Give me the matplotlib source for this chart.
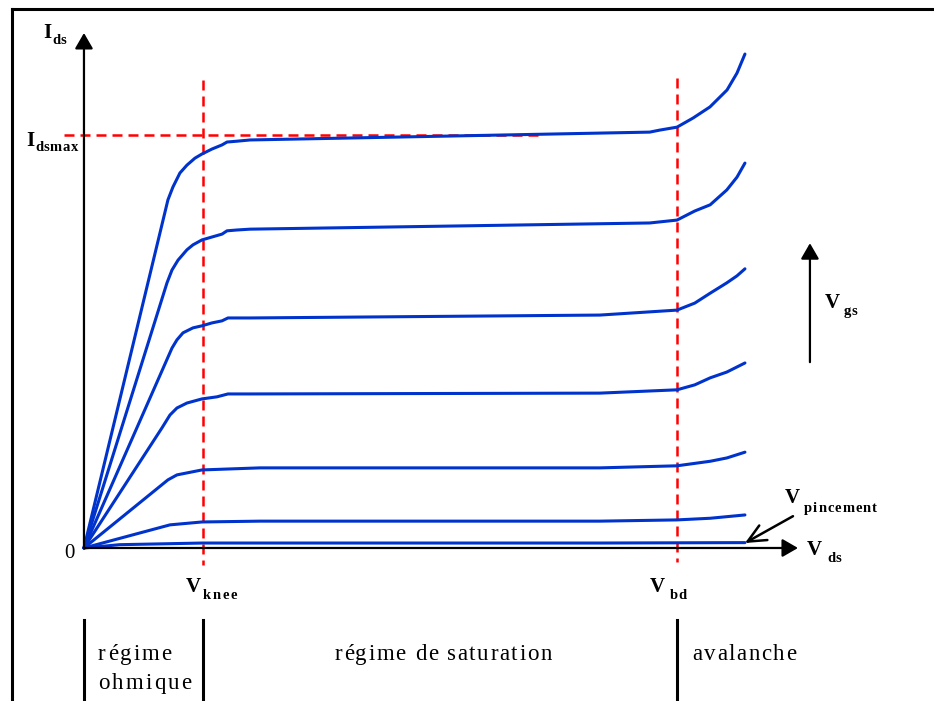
import numpy as np
import matplotlib
matplotlib.use('Agg')
import matplotlib.pyplot as plt
from matplotlib.transforms import offset_copy

# tensions de reference (Vknee = 1, Vbd = 5), courant normalise (Idsmax = 1)
v_knee = 1.0
v_bd = 5.0
ids_max = 1.0

# caracteristiques Ids(Vds) pour Vgs croissant
vds_1 = [0, 0.708, 0.750, 0.809, 0.868, 0.936, 0.995, 1.079, 1.164, 1.206, 1.290, 1.400,
         4.77, 4.857, 5.0, 5.135, 5.278, 5.422, 5.506, 5.573]
ids_1 = [0, 0.843, 0.874, 0.908, 0.927, 0.944, 0.954, 0.966, 0.976, 0.983, 0.985, 0.988,
         1.007, 1.012, 1.019, 1.041, 1.068, 1.109, 1.150, 1.196]

vds_2 = [0, 0.700, 0.742, 0.793, 0.868, 0.919, 0.995, 1.079, 1.164, 1.206, 1.290, 1.400,
         4.77, 5.0, 5.15, 5.28, 5.42, 5.506, 5.573]
ids_2 = [0, 0.642, 0.673, 0.697, 0.722, 0.734, 0.746, 0.753, 0.760, 0.768, 0.770, 0.772,
         0.787, 0.794, 0.816, 0.831, 0.867, 0.898, 0.932]

vds_3 = [0, 0.742, 0.784, 0.835, 0.919, 0.995, 1.079, 1.164, 1.214, 1.400,
         4.35, 5.0, 5.15, 5.28, 5.42, 5.506, 5.573]
ids_3 = [0, 0.484, 0.504, 0.521, 0.533, 0.538, 0.545, 0.550, 0.557, 0.557,
         0.564, 0.576, 0.593, 0.617, 0.642, 0.659, 0.676]

vds_4 = [0, 0.658, 0.725, 0.784, 0.868, 0.995, 1.121, 1.214, 1.400,
         4.35, 5.0, 5.15, 5.28, 5.42, 5.573]
ids_4 = [0, 0.291, 0.322, 0.339, 0.351, 0.361, 0.366, 0.373, 0.373,
         0.375, 0.383, 0.395, 0.412, 0.426, 0.448]

vds_5 = [0, 0.708, 0.784, 0.995, 1.484, 4.35, 5.0, 5.28, 5.42, 5.573]
ids_5 = [0, 0.165, 0.177, 0.189, 0.194, 0.194, 0.199, 0.210, 0.218, 0.232]

vds_6 = [0, 0.725, 0.995, 1.484, 4.35, 5.0, 5.28, 5.573]
ids_6 = [0, 0.056, 0.063, 0.065, 0.065, 0.068, 0.072, 0.080]

vds_7 = [0, 0.3, 1.0, 4.35, 5.573]
ids_7 = [0, 0.008, 0.012, 0.012, 0.013]

curves = [(vds_1, ids_1), (vds_2, ids_2), (vds_3, ids_3), (vds_4, ids_4),
          (vds_5, ids_5), (vds_6, ids_6), (vds_7, ids_7)]

region_labels = ['régime', 'ohmique', 'régime de saturation', 'avalanche']

BLUE = '#0033cc'
RED = '#ff0000'
SERIF = 'Liberation Serif'

fig = plt.figure(figsize=(9.34, 7.01), dpi=100)
ax = fig.add_axes([0, 0, 1, 1])
ax.set_xlim(-0.708, 7.167)
ax.set_ylim(-0.3705, 1.3269)
ax.axis('off')
renderer = fig.canvas.get_renderer()

# cadre
ax.plot([-0.607, -0.607], [1.305, -0.3705], color='black', lw=2.2, solid_capstyle='projecting')
ax.plot([-0.607, 7.167], [1.305, 1.305], color='black', lw=2.2, solid_capstyle='projecting')

# axes avec fleches
arrow_axis = dict(arrowstyle='-|>,head_length=0.95,head_width=0.55', mutation_scale=10,
                  color='black', lw=1.6, shrinkA=0, shrinkB=0)
ax.annotate('', xy=(6.02, 0), xytext=(0, 0), arrowprops=arrow_axis)
ax.annotate('', xy=(0, 1.247), xytext=(0, 0), arrowprops=arrow_axis)

# lignes pointillees rouges
ax.plot([v_knee, v_knee], [1.133, -0.041], color=RED, lw=1.8, dashes=(4, 2.4))
ax.plot([v_bd, v_bd], [1.138, -0.034], color=RED, lw=1.8, dashes=(4, 2.4))
ax.plot([-0.169, 3.845], [ids_max, ids_max], color=RED, lw=1.8, dashes=(4, 2.4))

# courbes
for vds, ids in curves:
    ax.plot(vds, ids, color=BLUE, lw=2.2, solid_joinstyle='round', solid_capstyle='round')


def text_width(s, **kw):
    # largeur en pixels, avec un '|' pour garder les espaces de fin
    t = ax.text(0, 0, s + '|', **kw)
    w = t.get_window_extent(renderer).width
    t.remove()
    t = ax.text(0, 0, '|', **kw)
    w -= t.get_window_extent(renderer).width
    t.remove()
    return w


def spaced_text(x, y, s, track=2.0, center=False, **kw):
    # texte avec espacement des lettres (comme dans le document d'origine)
    total = text_width(s, **kw) + track * (len(s) - 1)
    start = -total / 2 if center else 0.0
    for i, ch in enumerate(s):
        if ch == ' ':
            continue
        dx = start + text_width(s[:i], **kw) + track * i
        tr = offset_copy(ax.transData, fig=fig, x=dx, y=0, units='dots')
        ax.text(x, y, ch, transform=tr, ha='left', va='baseline', **kw)


def label(x, y, main, sub, xs, ys, size=15, sub_size=10.5, track=1.0):
    ax.text(x, y, main, fontsize=size, fontweight='bold', family=SERIF, ha='left', va='baseline')
    spaced_text(xs, ys, sub, track=track, fontsize=sub_size, fontweight='bold', family=SERIF)


label(-0.346, 1.235, 'I', 'ds', -0.270, 1.220, track=0.3)
label(-0.489, 0.973, 'I', 'dsmax', -0.413, 0.961, track=0.6)
label(0.860, -0.1065, 'V', 'knee', 1.003, -0.1235, track=1.6)
label(4.772, -0.1065, 'V', 'bd', 4.941, -0.1235, track=0.6)
label(6.096, -0.017, 'V', 'ds', 6.265, -0.034, track=0.5)
label(5.911, 0.109, 'V', 'pincement', 6.071, 0.087)
label(6.248, 0.581, 'V', 'gs', 6.408, 0.564, track=0.5)
ax.text(-0.169, -0.024, '0', fontsize=15, family=SERIF, ha='left', va='baseline')

# fleche Vgs
ax.annotate('', xy=(6.121, 0.738), xytext=(6.121, 0.450), arrowprops=arrow_axis)

# fleche V pincement
ax.annotate('', xy=(5.573, 0.012), xytext=(5.978, 0.077),
            arrowprops=dict(arrowstyle='->,head_length=1.3,head_width=0.6', mutation_scale=10,
                            color='black', lw=1.8, shrinkA=0, shrinkB=0))

# zones de fonctionnement
for xv in [0, v_knee, v_bd]:
    ax.plot([xv, xv], [-0.174, -0.3705], color='black', lw=2.2)

region_font = dict(fontsize=16.5, family=SERIF)
spaced_text(0.118, -0.271, region_labels[0], track=2.1, **region_font)
spaced_text(0.118, -0.341, region_labels[1], track=2.2, **region_font)
spaced_text(3.027, -0.271, region_labels[2], track=1.6, center=True, **region_font)
spaced_text(5.127, -0.271, region_labels[3], track=1.6, **region_font)

fig.savefig('out.png', dpi=100)
